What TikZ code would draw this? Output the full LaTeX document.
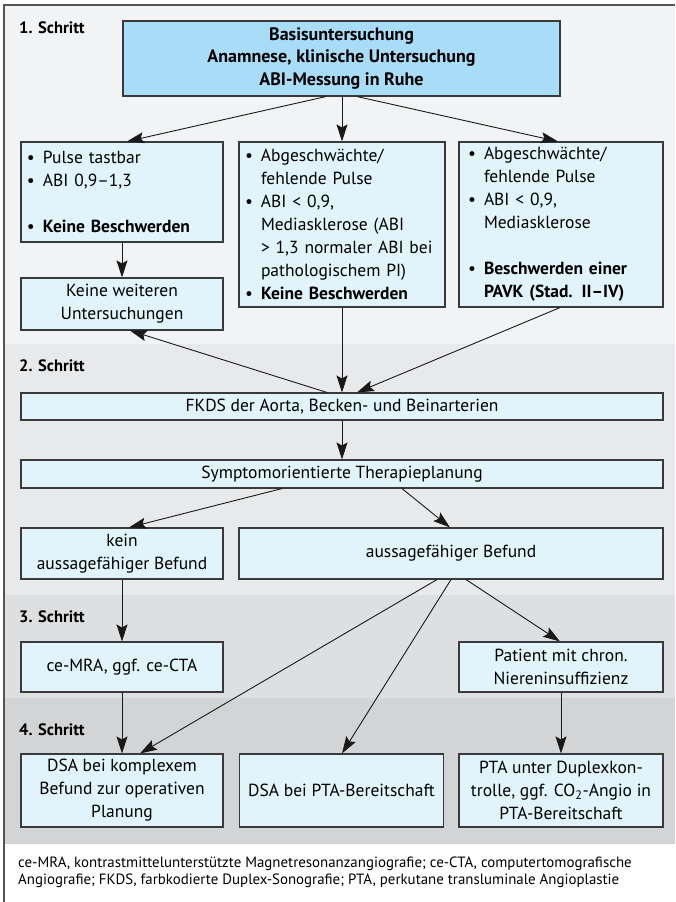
\documentclass[tikz,border=0pt]{standalone}
\usepackage{fontspec}
\setmainfont{PT Sans}
\usetikzlibrary{arrows.meta}
\definecolor{bandA}{HTML}{F2F3F5}
\definecolor{bandB}{HTML}{E8E9EB}
\definecolor{bandC}{HTML}{DEDFE1}
\definecolor{bandD}{HTML}{D3D4D6}
\definecolor{boxfill}{HTML}{E1F4FC}
\definecolor{topfill}{HTML}{A9DDF7}
\definecolor{boxline}{HTML}{3A3A3A}
\definecolor{frameline}{HTML}{555555}
\newcommand\bul{\makebox[16pt][l]{\textbullet}}
\newcommand\ind{\hspace*{16pt}}
\begin{document}
\begin{tikzpicture}[x=1pt,y=-1pt,
  box/.style={draw=boxline, line width=1.1pt, fill=boxfill, inner sep=0pt,
    font=\fontsize{17.5}{23}\selectfont, align=center},
  listbox/.style={box, align=left},
  stepl/.style={anchor=west, inner sep=0pt, font=\fontsize{16.5}{20}\selectfont\bfseries},
  arr/.style={line width=0.9pt, draw=black!90, -{Stealth[length=17pt,width=11pt,inset=3pt]}}]
\useasboundingbox (0,0) rectangle (675,902);
% bands
\fill[bandA] (4,5) rectangle (675,344);
\fill[bandB] (4,344) rectangle (675,595);
\fill[bandC] (4,595) rectangle (675,698);
\fill[bandD] (4,698) rectangle (675,844);
\draw[frameline, line width=1.2pt] (4,902) -- (4,5) -- (675,5);
% step labels
\node[stepl] (s1) at (19,28) {1. Schritt};
\node[stepl] (s2) at (19,366) {2. Schritt};
\node[stepl] (s3) at (19,617) {3. Schritt};
\node[stepl] (s4) at (19,730) {4. Schritt};
% boxes
\node[box, fill=topfill, font=\fontsize{18}{22.5}\selectfont\bfseries, minimum width=437pt, minimum height=75pt] (T) at (341.5,58.5)
  {Basisuntersuchung\\Anamnese, klinische Untersuchung\\ABI-Messung in Ruhe};
\node[listbox, minimum width=202pt, minimum height=100pt, text width=190pt] (A) at (122,192)
  {\bul Pulse tastbar\\\bul ABI 0,9--1,3\\[23pt]\bul\textbf{Keine Beschwerden}};
\node[listbox, minimum width=206pt, minimum height=165pt, text width=194pt] (B) at (342,224.5)
  {\bul Abgeschwächte/\\\ind fehlende Pulse\\\bul ABI < 0,9,\\\ind Mediasklerose (ABI\\\ind > 1,3 normaler ABI bei\\\ind pathologischem PI)\\\bul\textbf{Keine Beschwerden}};
\node[listbox, minimum width=204pt, minimum height=165pt, text width=186pt] (C) at (561,224.5)
  {\bul Abgeschwächte/\\\ind fehlende Pulse\\\bul ABI < 0,9,\\\ind Mediasklerose\\[23pt]\bul\textbf{Beschwerden einer}\\\ind\textbf{PAVK (Stad. II--IV)}};
\node[box, minimum width=202pt, minimum height=52pt] (K) at (122,304)
  {Keine weiteren\\Untersuchungen};
\node[box, minimum width=642pt, minimum height=27pt] (F) at (342,406.5)
  {FKDS der Aorta, Becken- und Beinarterien};
\node[box, minimum width=642pt, minimum height=28pt] (S) at (342,474)
  {Symptomorientierte Therapieplanung};
\node[box, minimum width=202pt, minimum height=51pt] (N) at (122,553.5)
  {kein\\aussagefähiger Befund};
\node[box, minimum width=424pt, minimum height=51pt] (Y) at (451,553.5)
  {aussagefähiger Befund};
\node[box, minimum width=202pt, minimum height=50pt] (M) at (122,667)
  {ce-MRA, ggf. ce-CTA};
\node[box, minimum width=204pt, minimum height=50pt] (P) at (561,667)
  {Patient mit chron.\\Niereninsuffizienz};
\node[box, minimum width=202pt, minimum height=73pt] (D1) at (122,790.5)
  {DSA bei komplexem\\Befund zur operativen\\Planung};
\node[box, minimum width=204pt, minimum height=73pt] (D2) at (341.5,790.5)
  {DSA bei PTA-Bereitschaft};
\node[box, minimum width=204pt, minimum height=73pt] (D3) at (561,790.5)
  {PTA unter Duplexkon-\\trolle, ggf. CO\textsubscript{2}-Angio in\\PTA-Bereitschaft};
% caption
\node[anchor=north west, inner sep=0pt, align=left, font=\fontsize{14.9}{16.5}\selectfont] (cap) at (18,857)
  {ce-MRA, kontrastmittelunterstützte Magnetresonanzangiografie; ce-CTA, computertomografische\\Angiografie; FKDS, farbkodierte Duplex-Sonografie; PTA, perkutane transluminale Angioplastie};
% arrows
\draw[arr] ([xshift=-15.5pt]T.south) -- ([xshift=5pt]A.north);
\draw[arr] ([xshift=0.5pt]T.south) -- (B.north);
\draw[arr] ([xshift=15.5pt]T.south) -- ([xshift=-3pt]C.north);
\draw[arr] (A.south) -- (K.north);
\draw[arr] ([xshift=-15pt]F.north) -- ([xshift=8pt]K.south);
\draw[arr] (B.south) -- (F.north);
\draw[arr] ([xshift=-1pt]C.south) -- ([xshift=15pt]F.north);
\draw[arr] (F.south) -- (S.north);
\draw[arr] ([xshift=-60pt]S.south) -- ([xshift=7pt]N.north);
\draw[arr] ([xshift=60pt]S.south) -- ([xshift=-1pt]Y.north);
\draw[arr] (N.south) -- (M.north);
\draw[arr] ([xshift=-14pt]Y.south) -- ([xshift=18pt]D1.north);
\draw[arr] ([xshift=0pt]Y.south) -- ([xshift=0.5pt]D2.north);
\draw[arr] ([xshift=15pt]Y.south) -- ([xshift=-1pt]P.north);
\draw[arr] (M.south) -- (D1.north);
\draw[arr] (P.south) -- (D3.north);
\end{tikzpicture}
\end{document}
